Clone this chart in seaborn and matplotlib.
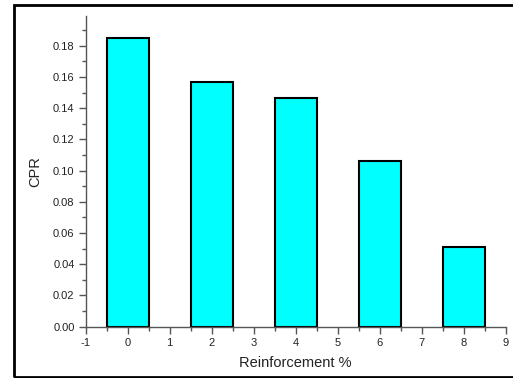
import numpy as np
import pandas as pd
import matplotlib.pyplot as plt
import seaborn as sns
from matplotlib.patches import Rectangle
from matplotlib.ticker import MultipleLocator

# data
reinforcement = [0, 2, 4, 6, 8]
cpr = [0.185, 0.157, 0.1466, 0.1062, 0.0513]

df = pd.DataFrame({'Reinforcement': reinforcement, 'CPR': cpr})

sns.set_theme(style="white")
plt.rcParams['font.family'] = ['Liberation Sans', 'DejaVu Sans']
plt.rcParams['axes.unicode_minus'] = False

fig = plt.figure(figsize=(5.13, 3.78), dpi=100)
ax = fig.add_axes([85.7/513, 1-326.7/378, 420/513, 310.7/378])

sns.barplot(data=df, x='Reinforcement', y='CPR', native_scale=True, width=0.5,
            color='#00FFFF', saturation=1, edgecolor='black', linewidth=1.5, ax=ax)

ax.set_xlim(-1, 9)
ax.set_ylim(0, 0.199)
ax.xaxis.set_major_locator(MultipleLocator(1))
ax.xaxis.set_minor_locator(MultipleLocator(0.5))
ax.yaxis.set_major_locator(MultipleLocator(0.02))
ax.yaxis.set_minor_locator(MultipleLocator(0.01))
ax.yaxis.set_major_formatter(plt.FormatStrFormatter('%.2f'))

for side in ['top', 'right']:
    ax.spines[side].set_visible(False)
for side in ['left', 'bottom']:
    ax.spines[side].set_color('#555555')
    ax.spines[side].set_linewidth(1.0)

ax.tick_params(axis='both', which='major', direction='out', length=5, width=1,
               color='#555555', labelsize=8, labelcolor='#222222', pad=3,
               bottom=True, left=True)
ax.tick_params(axis='both', which='minor', direction='out', length=3, width=1,
               color='#555555', bottom=True, left=True)

ax.set_xlabel('Reinforcement %', fontsize=10.5, color='#222222', labelpad=6)
ax.set_ylabel('CPR', fontsize=10.5, color='#222222', labelpad=8)

# outer frame around the chart
fig.patches.append(Rectangle((13.5/513, 1-376.5/378), 520/513, 371.5/378,
                             transform=fig.transFigure, fill=False,
                             edgecolor='black', linewidth=2))

plt.savefig('out.png', dpi=100)
